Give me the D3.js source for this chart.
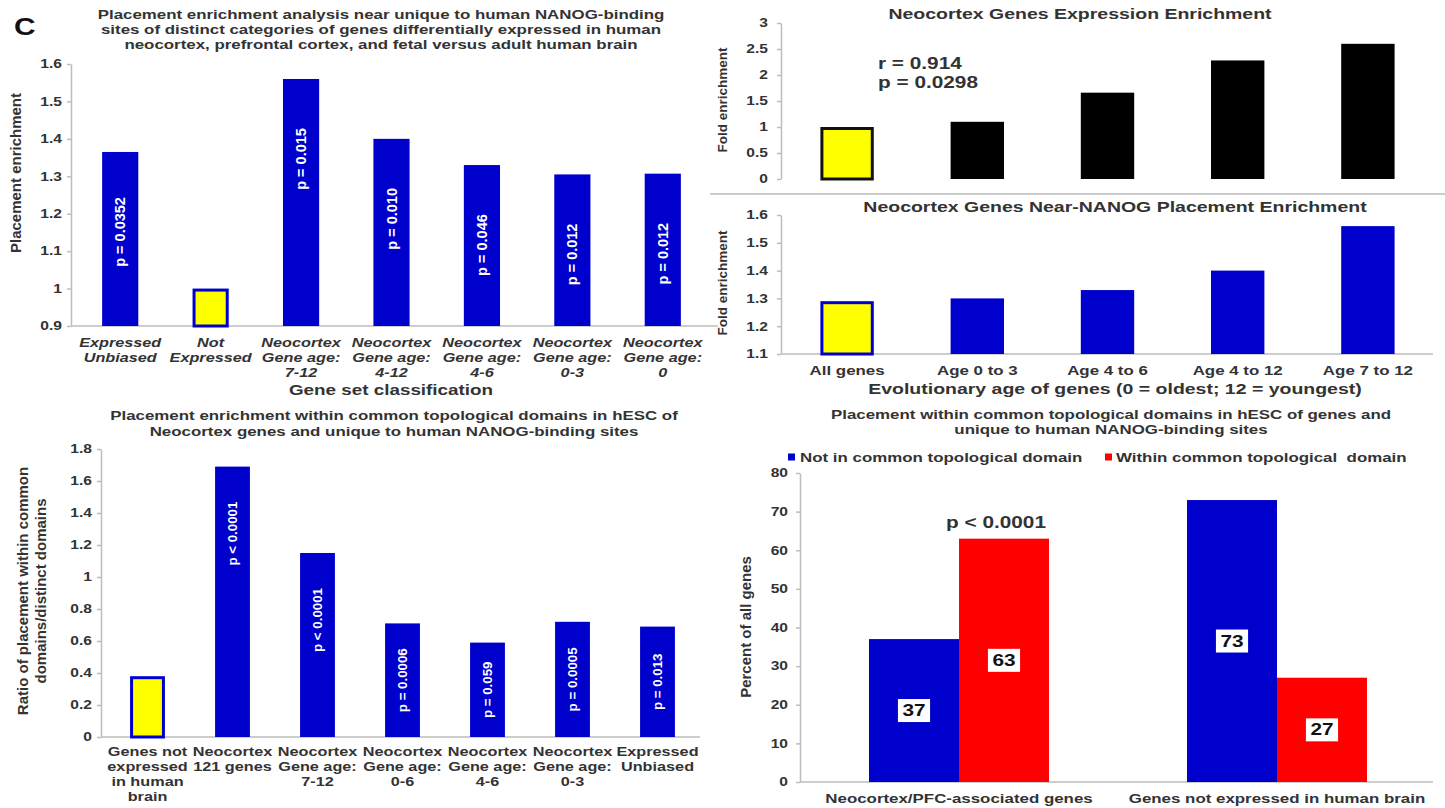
<!DOCTYPE html>
<html><head><meta charset="utf-8">
<script src="https://cdn.jsdelivr.net/npm/d3@7"></script>
<style>
html,body{margin:0;padding:0;background:#fff;}
svg{display:block;font-family:"Liberation Sans",Arial,sans-serif;}
</style></head><body>
<svg id="chart" width="1445" height="808"></svg>
<script>
// ---------- DATA ----------
const enrichCategories = [["Expressed","Unbiased"],["Not","Expressed"],["Neocortex","Gene age:","7-12"],["Neocortex","Gene age:","4-12"],["Neocortex","Gene age:","4-6"],["Neocortex","Gene age:","0-3"],["Neocortex","Gene age:","0"]];
const enrichValues = [1.365, 1.0, 1.56, 1.40, 1.33, 1.305, 1.307];
const enrichPLabels = ["p = 0.0352", "", "p = 0.015", "p = 0.010", "p = 0.046", "p = 0.012", "p = 0.012"];
const enrichTicks = [0.9, 1, 1.1, 1.2, 1.3, 1.4, 1.5, 1.6];

const ageCategories = ["All genes", "Age 0 to 3", "Age 4 to 6", "Age 4 to 12", "Age 7 to 12"];
const expressionValues = [1.0, 1.1, 1.66, 2.28, 2.6];
const expressionTicks = [0, 0.5, 1, 1.5, 2, 2.5, 3];
const placementValues = [1.29, 1.30, 1.33, 1.40, 1.56];
const placementTicks = [1.1, 1.2, 1.3, 1.4, 1.5, 1.6];

const domainCategories = [["Genes not","expressed","in human","brain"],["Neocortex","121 genes"],["Neocortex","Gene age:","7-12"],["Neocortex","Gene age:","0-6"],["Neocortex","Gene age:","4-6"],["Neocortex","Gene age:","0-3"],["Expressed","Unbiased"]];
const domainRatios = [0.38, 1.69, 1.15, 0.71, 0.59, 0.72, 0.69];
const domainPLabels = ["", "p < 0.0001", "p < 0.0001", "p = 0.0006", "p = 0.059", "p = 0.0005", "p = 0.013"];
const domainTicks = [0, 0.2, 0.4, 0.6, 0.8, 1, 1.2, 1.4, 1.6, 1.8];

const groupCategories = ["Neocortex/PFC-associated genes", "Genes not expressed in human brain"];
const seriesNames = ["Not in common topological domain", "Within common topological  domain"];
const notInDomain = [37, 73];
const withinDomain = [63, 27];
const percentTicks = [0, 10, 20, 30, 40, 50, 60, 70, 80];

// ---------- STYLE ----------
const SX = 1.3;
const BLUE = "#0000cc", YELLOW = "#ffff00", RED = "#ff0000", TEXT = "#333333", AXIS = "#bdbdbd";
const FONT = '"Liberation Sans",Arial,sans-serif';
const fmt = d3.format("~g");
const svg = d3.select("#chart");

function hText(g, x, y, s, o = {}) {
  return g.append("text")
    .attr("transform", `translate(${x},${y}) scale(${o.sx ?? SX},1)`)
    .attr("text-anchor", o.anchor || "middle")
    .attr("dominant-baseline", "central")
    .attr("font-size", o.size || 13)
    .attr("font-weight", o.weight || "bold")
    .attr("font-style", o.italic ? "italic" : "normal")
    .attr("fill", o.fill || TEXT)
    .style("white-space", "pre")
    .text(s);
}
function vText(g, x, y, s, o = {}) {
  return g.append("text")
    .attr("transform", `translate(${x},${y}) rotate(-90)`)
    .attr("text-anchor", o.anchor || "middle")
    .attr("dominant-baseline", "central")
    .attr("font-size", o.size || 15)
    .attr("font-weight", o.weight || "bold")
    .attr("fill", o.fill || TEXT)
    .text(s);
}
function yAxis(g, y, x0, ticks, size, gap) {
  const ax = g.append("g").attr("transform", `translate(${x0},0)`)
    .call(d3.axisLeft(y).tickValues(ticks).tickSize(4).tickSizeOuter(0).tickPadding(3).tickFormat(fmt));
  ax.select(".domain").attr("stroke", AXIS).attr("stroke-width", 1.5);
  ax.selectAll(".tick line").attr("stroke", AXIS).attr("stroke-width", 1.5);
  ax.selectAll(".tick text").attr("fill", TEXT).attr("font-size", size).attr("font-weight", "bold")
    .attr("font-family", FONT).attr("transform", `scale(${SX},1)`).attr("x", -gap / SX);
  return ax;
}
function baseline(g, x0, x1, y) {
  g.append("line").attr("x1", x0).attr("x2", x1).attr("y1", y).attr("y2", y)
    .attr("stroke", AXIS).attr("stroke-width", 1.5);
}
function bar(g, x, w, yTop, yBase, fill, stroke) {
  const r = g.append("rect");
  if (stroke) {
    r.attr("x", x + 1.5).attr("y", yTop + 1.5).attr("width", w - 3).attr("height", yBase - yTop - 1.5)
     .attr("fill", fill).attr("stroke", stroke).attr("stroke-width", 3);
  } else {
    r.attr("x", x).attr("y", yTop).attr("width", w).attr("height", yBase - yTop).attr("fill", fill);
  }
  return r;
}

// ---------- PANEL 1: top-left ----------
{
  const g = svg.append("g");
  hText(g, 14, 27, "C", {size: 23, anchor: "start", fill: "#111"});
  ["Placement enrichment analysis near unique to human NANOG-binding",
   "sites of distinct categories of genes differentially expressed in human",
   "neocortex, prefrontal cortex, and fetal versus adult human brain"]
    .forEach((s, i) => hText(g, 381, 14 + 15 * i, s, {size: 13}));
  const y = d3.scaleLinear().domain([0.9, 1.6]).range([326, 64]);
  const x = d3.scaleBand().domain(d3.range(enrichValues.length)).range([75, 708]).paddingInner(0.6).paddingOuter(0.3);
  baseline(g, 71, 718, y(0.9));
  yAxis(g, y, 71, enrichTicks, 12, 9);
  enrichValues.forEach((v, i) => {
    const hl = i === 1;
    bar(g, x(i), x.bandwidth(), y(v), y(0.9), hl ? YELLOW : BLUE, hl ? BLUE : null);
    const cx = x(i) + x.bandwidth() / 2;
    if (enrichPLabels[i]) vText(g, cx, y(v) + 80, enrichPLabels[i], {size: 14.5, fill: "#fff"});
    enrichCategories[i].forEach((s, j) => hText(g, cx, 343 + 15 * j, s, {size: 12.5, italic: true}));
  });
  hText(g, 391, 390, "Gene set classification", {size: 14.5});
  vText(g, 15, 173, "Placement enrichment", {size: 15});
}

// ---------- PANEL 2 & 3: top-right ----------
const xAge = d3.scaleBand().domain(d3.range(ageCategories.length)).range([782, 1433]).paddingInner(0.59).paddingOuter(0.295);
{
  const g = svg.append("g");
  hText(g, 1080, 14, "Neocortex Genes Expression Enrichment", {size: 15});
  const y = d3.scaleLinear().domain([0, 3]).range([179, 23]);
  yAxis(g, y, 781, expressionTicks, 12, 13);
  expressionValues.forEach((v, i) => {
    const hl = i === 0;
    bar(g, xAge(i), xAge.bandwidth(), y(v), y(0), hl ? YELLOW : "#000", hl ? "#111" : null);
  });
  hText(g, 878, 63, "r = 0.914", {size: 16, anchor: "start"});
  hText(g, 878, 82, "p = 0.0298", {size: 16, anchor: "start"});
  vText(g, 722, 100, "Fold enrichment", {size: 13.5});
  g.append("line").attr("x1", 710).attr("x2", 1445).attr("y1", 194).attr("y2", 194)
    .attr("stroke", "#bbb").attr("stroke-width", 1.5);
}
{
  const g = svg.append("g");
  hText(g, 1115, 207, "Neocortex Genes Near-NANOG Placement Enrichment", {size: 15});
  const y = d3.scaleLinear().domain([1.1, 1.6]).range([354, 215]);
  baseline(g, 781, 1433, y(1.1));
  yAxis(g, y, 781, placementTicks, 12, 13);
  placementValues.forEach((v, i) => {
    const hl = i === 0;
    bar(g, xAge(i), xAge.bandwidth(), y(v), y(1.1), hl ? YELLOW : BLUE, hl ? BLUE : null);
    hText(g, xAge(i) + xAge.bandwidth() / 2, 370, ageCategories[i], {size: 13});
  });
  hText(g, 1115, 389, "Evolutionary age of genes (0 = oldest; 12 = youngest)", {size: 15});
  vText(g, 722, 283, "Fold enrichment", {size: 13.5});
}

// ---------- PANEL 4: bottom-left ----------
{
  const g = svg.append("g");
  ["Placement enrichment within common topological domains in hESC of",
   "Neocortex genes and unique to human NANOG-binding sites"]
    .forEach((s, i) => hText(g, 394, 415 + 16 * i, s, {size: 13}));
  const y = d3.scaleLinear().domain([0, 1.8]).range([737, 449]);
  const x = d3.scaleBand().domain(d3.range(domainRatios.length)).range([105, 700]).paddingInner(0.59).paddingOuter(0.295);
  baseline(g, 101, 700, y(0));
  yAxis(g, y, 101, domainTicks, 12, 9);
  domainRatios.forEach((v, i) => {
    const hl = i === 0;
    bar(g, x(i), x.bandwidth(), y(v), y(0), hl ? YELLOW : BLUE, hl ? BLUE : null);
    const cx = x(i) + x.bandwidth() / 2;
    if (domainPLabels[i]) {
      const t = vText(g, cx, y(v), domainPLabels[i], {size: 13.3, fill: "#fff", anchor: "end"});
      const len = t.node().getComputedTextLength();
      const off = Math.min(35, (y(0) - y(v) - len) / 2);
      t.attr("transform", `translate(${cx},${y(v) + off}) rotate(-90)`);
    }
    domainCategories[i].forEach((s, j) => hText(g, cx, 752 + 15 * j, s, {size: 12.5}));
  });
  vText(g, 22, 591, "Ratio of placement within common", {size: 15});
  vText(g, 40, 591, "domains/distinct domains", {size: 15});
}

// ---------- PANEL 5: bottom-right ----------
{
  const g = svg.append("g");
  ["Placement within common topological domains in hESC of genes and",
   "unique to human NANOG-binding sites"]
    .forEach((s, i) => hText(g, 1111, 414 + 15 * i, s, {size: 13}));
  const colors = [BLUE, RED];
  [[788, 800], [1105, 1116]].forEach(([rx, tx], k) => {
    g.append("rect").attr("x", rx).attr("y", 453.5).attr("width", 7).attr("height", 7).attr("fill", colors[k]);
    hText(g, tx, 457, seriesNames[k], {size: 13, anchor: "start"});
  });
  const y = d3.scaleLinear().domain([0, 80]).range([782, 473]);
  const x = d3.scaleBand().domain(d3.range(groupCategories.length)).range([800, 1436]).paddingInner(0.434).paddingOuter(0.217);
  const xs = d3.scaleBand().domain([0, 1]).range([0, x.bandwidth()]);
  baseline(g, 800, 1433, y(0));
  yAxis(g, y, 800, percentTicks, 12, 12);
  const series = [notInDomain, withinDomain];
  const barsG = g.append("g");
  const labels = g.append("g");
  groupCategories.forEach((c, i) => {
    series.forEach((vals, k) => {
      const v = vals[i];
      const bx = x(i) + xs(k);
      bar(barsG, bx, xs.bandwidth(), y(v), y(0), colors[k], null);
      const cx = bx + xs.bandwidth() / 2, cy = y(v / 2);
      const box = labels.append("rect").attr("fill", "#fff");
      const t = hText(labels, cx, cy, String(v), {size: 16, fill: "#111"});
      const w = t.node().getComputedTextLength() * SX + 9;
      box.attr("x", cx - w / 2).attr("y", cy - 11.5).attr("width", w).attr("height", 23);
    });
    hText(g, x(i) + x.bandwidth() / 2, 798, c, {size: 13});
  });
  hText(g, 996, 522, "p < 0.0001", {size: 16});
  vText(g, 745, 627, "Percent of all genes", {size: 15});
}
</script>
</body></html>
